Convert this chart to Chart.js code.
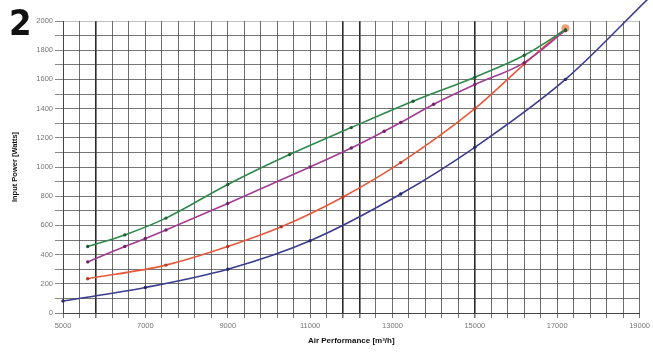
<!DOCTYPE html>
<html>
<head>
<meta charset="utf-8">
<script src="https://cdn.jsdelivr.net/npm/chart.js@4"></script>
<style>
    html, body { margin: 0; padding: 0; background: #fff; }
    #wrap { position: relative; width: 653px; height: 353px; }
    #fig {
        position: absolute; left: 9px; top: 5px;
        font: bold 36px 'Liberation Sans Narrow', 'DejaVu Sans Condensed', sans-serif;
        color: #111; line-height: 1;
    }
</style>
</head>
<body>
<div id="wrap">
    <canvas id="power-chart" width="653" height="353"></canvas>
    <div id="fig">2</div>
</div>
<script>
// x tick labels (labelled every 2000, grid every 400)
const xLabels = [5000, 7000, 9000, 11000, 13000, 15000, 17000, 19000];
const xHeavyLines = [5800, 11800, 12200, 15000];
const yLabels = [0, 200, 400, 600, 800, 1000, 1200, 1400, 1600, 1800, 2000];

const blueX = [5000, 7000, 9000, 11000, 13200, 15000, 17200, 19200];
const blueY = [82, 175, 300, 495, 815, 1135, 1600, 2150];

const redX = [5600, 7500, 9000, 10300, 11800, 13200, 15000, 16200, 17200];
const redY = [235, 328, 455, 590, 795, 1030, 1400, 1705, 1950];

const purpleX = [5600, 6500, 7000, 7500, 9000, 11000, 12000, 12800, 13200, 14000, 15000, 16200, 17200];
const purpleY = [350, 455, 510, 568, 750, 1000, 1130, 1245, 1305, 1430, 1565, 1715, 1935];

const greenX = [5600, 6500, 7500, 9000, 10500, 12000, 13500, 15000, 16200, 17200];
const greenY = [455, 535, 650, 880, 1085, 1270, 1450, 1615, 1765, 1940];

const toPoints = (xs, ys) => xs.map((x, i) => ({ x, y: ys[i] }));

const xGrid = [];
for (let v = 5000; v <= 19000; v += 400) xGrid.push(v);

function series(xs, ys, color, dot, extra) {
    return Object.assign({
        data: toPoints(xs, ys),
        showLine: true,
        borderColor: color,
        borderWidth: 1.6,
        backgroundColor: dot,
        pointBorderColor: dot,
        pointRadius: 1.7,
        pointBorderWidth: 0,
        cubicInterpolationMode: 'monotone',
    }, extra || {});
}

new Chart(document.getElementById('power-chart'), {
    type: 'scatter',
    data: {
        datasets: [
            series(greenX, greenY, '#2e8a4c', '#1d5e32'),
            series(purpleX, purpleY, '#a23c96', '#6e2466'),
            series(redX, redY, '#e85a3c', '#b23a26', {
                pointRadius: ctx => ctx.dataIndex === redX.length - 1 ? 4 : 1.7,
                pointBackgroundColor: ctx => ctx.dataIndex === redX.length - 1 ? '#f0a070' : '#b23a26',
            }),
            series(blueX, blueY, '#3a3e8e', '#25286a', { clip: false }),
        ],
    },
    options: {
        responsive: false,
        animation: false,
        layout: { padding: { top: 21, right: 12, left: 0, bottom: 0 } },
        plugins: {
            legend: { display: false },
            tooltip: { enabled: false },
        },
        scales: {
            x: {
                type: 'linear',
                min: 5000,
                max: 19000,
                afterBuildTicks: scale => { scale.ticks = xGrid.map(value => ({ value })); },
                afterFit: scale => { scale.height = 40; },
                ticks: {
                    autoSkip: false,
                    maxRotation: 0,
                    padding: 3,
                    color: '#777',
                    font: { size: 7.5, family: "'Liberation Sans', Arial, sans-serif" },
                    callback: v => xLabels.includes(v) ? String(v) : '',
                },
                grid: {
                    color: ctx => xHeavyLines.includes(ctx.tick.value) ? '#2a2a2a' : 'rgba(60,60,60,0.75)',
                    lineWidth: ctx => xHeavyLines.includes(ctx.tick.value) ? 1.6 : 1,
                    tickLength: 5,
                    tickColor: 'rgba(60,60,60,0.7)',
                },
                border: { color: '#444', width: 1 },
                title: {
                    display: true,
                    text: 'Air Performance [m³/h]',
                    color: '#111',
                    font: { size: 8, weight: 'bold', family: "'Liberation Sans', Arial, sans-serif" },
                    padding: { top: 0, bottom: 7 },
                },
            },
            y: {
                min: 0,
                max: 2000,
                afterFit: scale => { scale.width = 63; },
                ticks: {
                    stepSize: 100,
                    autoSkip: false,
                    padding: 2,
                    color: '#777',
                    font: { size: 7.5, family: "'Liberation Sans', Arial, sans-serif" },
                    callback: v => yLabels.includes(v) ? String(v) : '',
                },
                grid: {
                    color: ctx => ctx.tick.value === 2000 ? 'rgba(120,120,120,0.45)' : 'rgba(60,60,60,0.7)',
                    lineWidth: 1,
                    tickLength: 8,
                    tickColor: 'rgba(60,60,60,0.6)',
                },
                border: { color: '#444', width: 1 },
                title: {
                    display: true,
                    text: 'Input Power [Watts]',
                    color: '#111',
                    font: { size: 7.5, weight: 'bold', family: "'Liberation Sans', Arial, sans-serif" },
                    padding: { top: 10, bottom: 0 },
                },
            },
        },
    },
});
</script>
</body>
</html>
